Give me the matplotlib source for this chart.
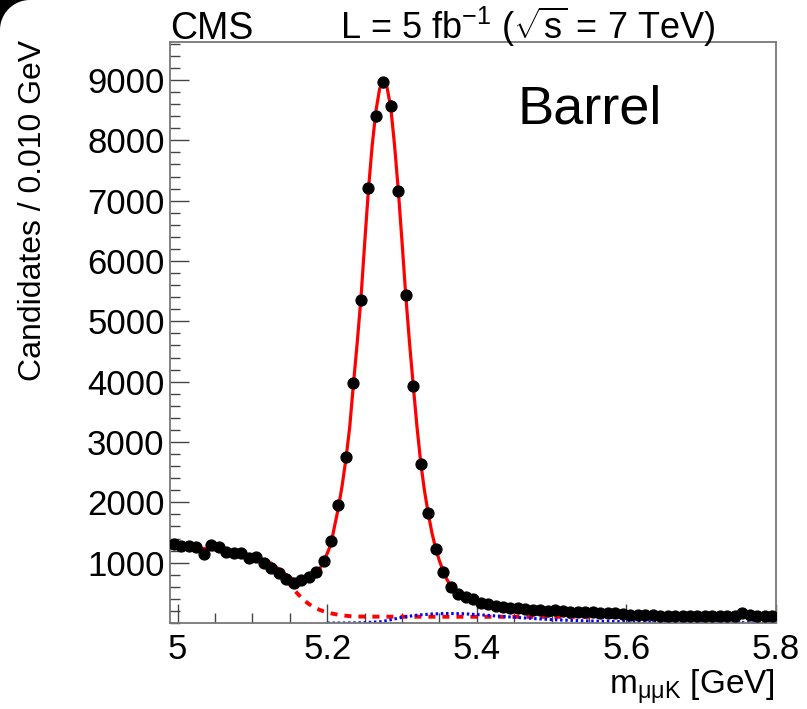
import numpy as np
import matplotlib
matplotlib.use("Agg")
import matplotlib.pyplot as plt
from matplotlib.ticker import MultipleLocator
from matplotlib.patches import Polygon

plt.rcParams['font.family'] = ['Liberation Sans', 'DejaVu Sans']
plt.rcParams['mathtext.fontset'] = 'custom'
plt.rcParams['mathtext.rm'] = 'Liberation Sans'
plt.rcParams['mathtext.it'] = 'Liberation Sans'
plt.rcParams['mathtext.sf'] = 'Liberation Sans'

# ---- data points (bin centres, 0.010 GeV bins) ----
mass = [round(4.995 + 0.01 * i, 3) for i in range(81)]
counts = [1309, 1276, 1276, 1264, 1138, 1287, 1264, 1181, 1155, 1155,
          1072, 1099, 989, 917, 824, 724, 668, 712, 757, 840,
          1032, 1364, 1955, 2750, 3977, 5352, 7213, 8400, 8960, 8572,
          7158, 5430, 3927, 2635, 1823, 1221, 850, 601, 480, 436,
          393, 337, 310, 282, 270, 254, 254, 227, 222, 215,
          205, 210, 196, 190, 186, 180, 176, 170, 166, 160,
          150, 140, 135, 130, 125, 121, 120, 115, 118, 112,
          110, 112, 108, 115, 110, 118, 160, 125, 120, 115, 118]

# ---- total fit (solid red) ----
fit_x = [4.99, 5.00, 5.01, 5.02, 5.03, 5.04, 5.05, 5.06, 5.07, 5.08, 5.09,
         5.10, 5.105, 5.11, 5.115, 5.12, 5.125, 5.13, 5.135, 5.14, 5.145,
         5.15, 5.155, 5.16, 5.165, 5.17, 5.175, 5.18, 5.185, 5.19, 5.195,
         5.20, 5.205, 5.21, 5.215, 5.22, 5.225, 5.23, 5.235, 5.24, 5.245,
         5.25, 5.255, 5.26, 5.265, 5.27, 5.275, 5.28, 5.285, 5.29, 5.295,
         5.30, 5.305, 5.31, 5.315, 5.32, 5.325, 5.33, 5.335, 5.34, 5.345,
         5.35, 5.355, 5.36, 5.365, 5.37, 5.375, 5.38, 5.39, 5.40, 5.41,
         5.42, 5.43, 5.44, 5.45, 5.47, 5.50, 5.53, 5.56, 5.60]
fit_y = [1248, 1245, 1242, 1238, 1233, 1226, 1217, 1205, 1190, 1170, 1146,
         1115, 1095, 1072, 1046, 1027, 992, 947, 897, 847, 800,
         760, 720, 690, 675, 678, 698, 738, 805, 897, 1014,
         1155, 1310, 1618, 1916, 2287, 2720, 3244, 3960, 4638, 5377,
         6289, 7172, 7905, 8480, 8855, 8973, 8873, 8535, 7917, 7170,
         6313, 5424, 4644, 3932, 3249, 2656, 2192, 1817, 1492, 1236,
         1029, 861, 722, 612, 531, 475, 449, 402, 359, 330,
         304, 289, 274, 261, 238, 207, 189, 173, 161]

# ---- combinatorial background (dashed red) ----
bkg_x = [4.99, 5.00, 5.01, 5.02, 5.03, 5.04, 5.05, 5.06, 5.07, 5.08, 5.09,
         5.10, 5.105, 5.11, 5.115, 5.12, 5.125, 5.13, 5.135, 5.14, 5.145,
         5.15, 5.155, 5.16, 5.165, 5.17, 5.175, 5.18, 5.185, 5.19, 5.195,
         5.20, 5.205, 5.21, 5.215, 5.22, 5.225, 5.23, 5.235, 5.24, 5.25,
         5.30, 5.40, 5.50, 5.60]
bkg_y = [1248, 1245, 1242, 1238, 1233, 1226, 1217, 1205, 1190, 1170, 1146,
         1112, 1092, 1068, 1040, 1005, 962, 905, 842, 775, 705,
         635, 560, 490, 425, 368, 318, 278, 245, 217, 194,
         175, 160, 148, 136, 127, 120, 114, 110, 108, 106,
         104, 103, 102, 101]

# ---- peaking component (dotted blue) ----
pk_x = [5.20, 5.22, 5.25, 5.27, 5.28, 5.30, 5.32, 5.34, 5.36, 5.38, 5.40,
        5.42, 5.45, 5.50, 5.55, 5.60, 5.65, 5.70, 5.75, 5.80]
pk_y = [0, 0, 5, 20, 40, 95, 130, 150, 158, 155, 140,
        122, 95, 55, 33, 22, 15, 10, 6, 4]

W, H = 807, 709
fig = plt.figure(figsize=(W / 100, H / 100), dpi=100)
x0, x1, y0, y1 = 170.2, 776.0, 42, 623
ax = fig.add_axes([x0 / W, 1 - y1 / H, (x1 - x0) / W, (y1 - y0) / H])

ax.plot(bkg_x, bkg_y, color='red', lw=2.8, ls=(0, (1.8, 1.8)), zorder=2)
ax.plot(pk_x, pk_y, color='blue', lw=2.2, ls=(0, (0.8, 0.9)), zorder=2)
ax.plot(fit_x, fit_y, color='red', lw=2.3, zorder=3)
counts_a = np.array(counts, dtype=float)
ax.errorbar(mass, counts_a, yerr=np.sqrt(counts_a), fmt='o', color='black',
            ms=7.8, elinewidth=1.0, capsize=0, zorder=4)

ax.set_xlim(4.99, 5.8)
ax.set_ylim(0, 9630)
ax.xaxis.set_minor_locator(MultipleLocator(0.05))
ax.yaxis.set_minor_locator(MultipleLocator(200))
ax.set_yticks([1000, 2000, 3000, 4000, 5000, 6000, 7000, 8000, 9000])
ax.set_xticks([5.0, 5.2, 5.4, 5.6, 5.8])
ax.set_xticklabels(['5', '5.2', '5.4', '5.6', '5.8'])
ax.tick_params(axis='both', which='major', direction='in', length=14,
               width=1.0, color='#444444', labelsize=25)
ax.tick_params(axis='both', which='minor', direction='in', length=7,
               width=1.0, color='#444444')
ax.tick_params(axis='x', which='major', pad=7)
ax.tick_params(axis='y', which='major', pad=4)
for s in ax.spines.values():
    s.set_color('#777777')
    s.set_linewidth(1.3)

fig.text(33 / W, 1 - 40 / H, 'Candidates / 0.010 GeV', rotation=90,
         ha='center', va='top', fontsize=23)
fig.text(775 / W, 1 - 695 / H, r'm$_{\mathrm{\mu\mu K}}$ [GeV]',
         ha='right', va='baseline', fontsize=24)
fig.text(170 / W, 1 - 39 / H, 'CMS', ha='left', va='baseline', fontsize=27)
fig.text(340 / W, 1 - 39 / H, r'L = 5 fb$^{-1}$ ($\sqrt{s}$ = 7 TeV)',
         ha='left', va='baseline', fontsize=26)
fig.text(517 / W, 1 - 123 / H, 'Barrel', ha='left', va='baseline', fontsize=39)

# dark rounded corner of the screenshot (top-left)
R = 30
t = np.linspace(0, np.pi / 2, 30)
arc = [(R - R * np.cos(a), H - (R - R * np.sin(a))) for a in t]
corner = [(0, H)] + arc
fig.patches.append(Polygon([(px / W, py / H) for px, py in corner],
                           closed=True, transform=fig.transFigure,
                           facecolor='black', edgecolor='none'))

fig.savefig('out.png', dpi=100)
